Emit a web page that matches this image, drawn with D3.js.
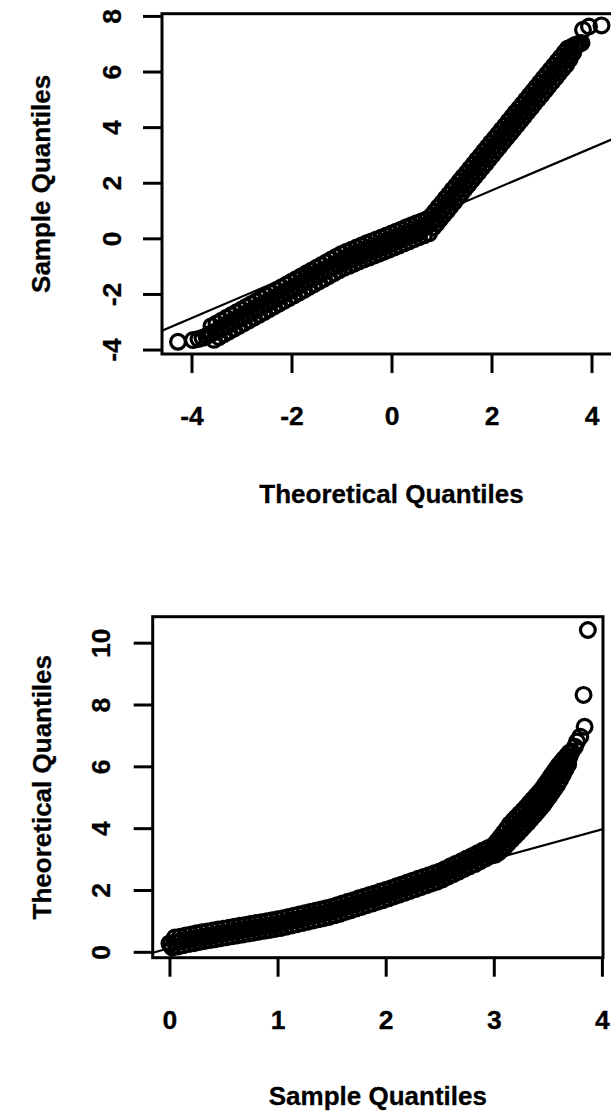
<!DOCTYPE html>
<html>
<head>
<meta charset="utf-8">
<script src="https://cdn.jsdelivr.net/npm/d3@7"></script>
<style>
  html, body { margin: 0; padding: 0; background: #fff; }
  svg { display: block; }
</style>
</head>
<body>
<svg id="chart" width="611" height="1115"></svg>
<script>
// ---------------- data ----------------
// Normal Q-Q plot: [theoretical quantile, sample quantile]
const topPoints = [
  // lower tail
  [-4.27,-3.72],[-3.97,-3.66],[-3.86,-3.62],[-3.78,-3.58],[-3.70,-3.52],[-3.65,-3.45],
  // body, upper side
  [-3.6,-3.16],[-3.5,-3.06],[-3.4,-2.96],[-3.3,-2.86],[-3.2,-2.76],[-3.1,-2.66],[-3.0,-2.56],
  [-2.9,-2.46],[-2.8,-2.36],[-2.7,-2.26],[-2.6,-2.16],[-2.5,-2.06],[-2.4,-1.96],[-2.3,-1.86],
  [-2.2,-1.76],[-2.1,-1.66],[-2.0,-1.56],[-1.9,-1.46],[-1.8,-1.36],[-1.7,-1.26],[-1.6,-1.16],
  [-1.5,-1.06],[-1.4,-0.96],[-1.3,-0.86],[-1.2,-0.76],[-1.1,-0.66],[-1.0,-0.56],[-0.9,-0.48],
  [-0.8,-0.41],[-0.7,-0.33],[-0.6,-0.26],[-0.5,-0.18],[-0.4,-0.11],[-0.3,-0.04],[-0.2,0.03],
  [-0.1,0.10],[0.0,0.17],[0.1,0.25],[0.2,0.32],[0.3,0.40],[0.4,0.47],[0.5,0.54],[0.6,0.61],
  [0.7,0.68],
  // body, middle
  [-3.6,-3.43],[-3.5,-3.33],[-3.4,-3.23],[-3.3,-3.13],[-3.2,-3.03],[-3.1,-2.93],[-3.0,-2.83],
  [-2.9,-2.73],[-2.8,-2.63],[-2.7,-2.53],[-2.6,-2.43],[-2.5,-2.33],[-2.4,-2.23],[-2.3,-2.13],
  [-2.2,-2.03],[-2.1,-1.93],[-2.0,-1.83],[-1.9,-1.73],[-1.8,-1.63],[-1.7,-1.53],[-1.6,-1.43],
  [-1.5,-1.33],[-1.4,-1.23],[-1.3,-1.13],[-1.2,-1.03],[-1.1,-0.93],[-1.0,-0.83],[-0.9,-0.75],
  [-0.8,-0.68],[-0.7,-0.60],[-0.6,-0.53],[-0.5,-0.45],[-0.4,-0.38],[-0.3,-0.31],[-0.2,-0.24],
  [-0.1,-0.17],[0.0,-0.10],[0.1,-0.03],[0.2,0.05],[0.3,0.13],[0.4,0.20],[0.5,0.27],[0.6,0.34],
  [0.7,0.41],
  // body, lower side
  [-3.55,-3.65],[-3.45,-3.55],[-3.35,-3.45],[-3.25,-3.35],[-3.15,-3.25],[-3.05,-3.15],
  [-2.95,-3.05],[-2.85,-2.95],[-2.75,-2.85],[-2.65,-2.75],[-2.55,-2.65],[-2.45,-2.55],
  [-2.35,-2.45],[-2.25,-2.35],[-2.15,-2.25],[-2.05,-2.15],[-1.95,-2.05],[-1.85,-1.95],
  [-1.75,-1.85],[-1.65,-1.75],[-1.55,-1.65],[-1.45,-1.55],[-1.35,-1.45],[-1.25,-1.35],
  [-1.15,-1.25],[-1.05,-1.15],[-0.95,-1.06],[-0.85,-0.99],[-0.75,-0.91],[-0.65,-0.83],
  [-0.55,-0.76],[-0.45,-0.69],[-0.35,-0.62],[-0.25,-0.55],[-0.15,-0.48],[-0.05,-0.41],
  [0.05,-0.33],[0.15,-0.26],[0.25,-0.18],[0.35,-0.11],[0.45,-0.03],[0.55,0.04],[0.65,0.11],
  [0.75,0.18],
  // right-hand rise, upper side
  [0.80,0.81],[0.87,0.96],[0.94,1.12],[1.01,1.27],[1.08,1.43],[1.15,1.58],[1.22,1.74],
  [1.29,1.89],[1.36,2.05],[1.43,2.20],[1.50,2.35],[1.57,2.51],[1.64,2.66],[1.71,2.82],
  [1.78,2.97],[1.85,3.13],[1.92,3.28],[1.99,3.44],[2.06,3.59],[2.13,3.74],[2.20,3.90],
  [2.27,4.05],[2.34,4.21],[2.41,4.36],[2.48,4.52],[2.55,4.67],[2.62,4.82],[2.69,4.98],
  [2.76,5.13],[2.83,5.29],[2.90,5.44],[2.97,5.60],[3.04,5.75],[3.11,5.91],[3.18,6.06],
  [3.25,6.21],[3.32,6.37],[3.39,6.52],[3.46,6.68],[3.53,6.83],[3.60,6.88],[3.67,6.95],
  // right-hand rise, middle
  [0.80,0.56],[0.87,0.71],[0.94,0.87],[1.01,1.02],[1.08,1.18],[1.15,1.33],[1.22,1.49],
  [1.29,1.64],[1.36,1.80],[1.43,1.95],[1.50,2.10],[1.57,2.26],[1.64,2.41],[1.71,2.57],
  [1.78,2.72],[1.85,2.88],[1.92,3.03],[1.99,3.19],[2.06,3.34],[2.13,3.49],[2.20,3.65],
  [2.27,3.80],[2.34,3.96],[2.41,4.11],[2.48,4.27],[2.55,4.42],[2.62,4.57],[2.69,4.73],
  [2.76,4.88],[2.83,5.04],[2.90,5.19],[2.97,5.35],[3.04,5.50],[3.11,5.66],[3.18,5.81],
  [3.25,5.96],[3.32,6.12],[3.39,6.27],[3.46,6.43],[3.53,6.58],[3.60,6.74],[3.67,6.87],
  // right-hand rise, lower side
  [0.835,0.39],[0.905,0.54],[0.975,0.70],[1.045,0.85],[1.115,1.00],[1.185,1.16],[1.255,1.31],
  [1.325,1.47],[1.395,1.62],[1.465,1.78],[1.535,1.93],[1.605,2.09],[1.675,2.24],[1.745,2.39],
  [1.815,2.55],[1.885,2.70],[1.955,2.86],[2.025,3.01],[2.095,3.17],[2.165,3.32],[2.235,3.48],
  [2.305,3.63],[2.375,3.78],[2.445,3.94],[2.515,4.09],[2.585,4.25],[2.655,4.40],[2.725,4.56],
  [2.795,4.71],[2.865,4.87],[2.935,5.02],[3.005,5.17],[3.075,5.33],[3.145,5.48],[3.215,5.64],
  [3.285,5.79],[3.355,5.95],[3.425,6.10],[3.495,6.25],[3.565,6.45],[3.635,6.68],
  // upper tail
  [3.72,6.97],[3.76,7.01],[3.80,7.03],[3.83,7.50],[3.95,7.62],[4.20,7.66]
];
// qqline end points (theoretical, sample)
const topLine = [[-4.59,-3.32],[4.59,3.70]];
const topXTicks = [-4,-2,0,2,4];
const topYTicks = [-4,-2,0,2,4,6,8];
const topXTitle = "Theoretical Quantiles";
const topYTitle = "Sample Quantiles";

// Q-Q plot with axes swapped: [sample quantile, theoretical quantile]
const bottomPoints = [
  // lower tail
  [0.00,0.27],[0.01,0.24],
  // upper side
  [0.05,0.46],[0.10,0.49],[0.15,0.53],[0.20,0.56],[0.25,0.60],[0.30,0.63],[0.35,0.66],
  [0.40,0.69],[0.45,0.72],[0.50,0.75],[0.55,0.78],[0.60,0.81],[0.65,0.84],[0.70,0.87],
  [0.75,0.90],[0.80,0.93],[0.85,0.96],[0.90,0.99],[0.95,1.02],[1.00,1.05],[1.05,1.09],
  [1.10,1.13],[1.15,1.17],[1.20,1.21],[1.25,1.25],[1.30,1.29],[1.35,1.33],[1.40,1.37],
  [1.45,1.41],[1.50,1.45],[1.55,1.51],[1.60,1.56],[1.65,1.62],[1.70,1.67],[1.75,1.73],
  [1.80,1.78],[1.85,1.84],[1.90,1.89],[1.95,1.95],[2.00,2.00],[2.05,2.06],[2.10,2.12],
  [2.15,2.18],[2.20,2.24],[2.25,2.30],[2.30,2.36],[2.35,2.42],[2.40,2.48],[2.45,2.54],
  [2.50,2.60],[2.55,2.68],[2.60,2.77],[2.65,2.85],[2.70,2.93],[2.75,3.02],[2.80,3.10],
  [2.85,3.19],[2.90,3.28],[2.95,3.36],
  // middle
  [0.05,0.31],[0.10,0.34],[0.15,0.38],[0.20,0.41],[0.25,0.45],[0.30,0.48],[0.35,0.51],
  [0.40,0.54],[0.45,0.57],[0.50,0.60],[0.55,0.63],[0.60,0.66],[0.65,0.69],[0.70,0.72],
  [0.75,0.75],[0.80,0.78],[0.85,0.81],[0.90,0.84],[0.95,0.87],[1.00,0.90],[1.05,0.94],
  [1.10,0.98],[1.15,1.02],[1.20,1.06],[1.25,1.10],[1.30,1.14],[1.35,1.18],[1.40,1.22],
  [1.45,1.26],[1.50,1.30],[1.55,1.36],[1.60,1.41],[1.65,1.47],[1.70,1.52],[1.75,1.58],
  [1.80,1.63],[1.85,1.69],[1.90,1.74],[1.95,1.80],[2.00,1.85],[2.05,1.91],[2.10,1.97],
  [2.15,2.03],[2.20,2.09],[2.25,2.15],[2.30,2.21],[2.35,2.27],[2.40,2.33],[2.45,2.39],
  [2.50,2.45],[2.55,2.53],[2.60,2.62],[2.65,2.70],[2.70,2.78],[2.75,2.87],[2.80,2.95],
  [2.85,3.04],[2.90,3.13],[2.95,3.21],
  // lower side
  [0.025,0.14],[0.075,0.17],[0.125,0.21],[0.175,0.25],[0.225,0.28],[0.275,0.32],[0.325,0.35],
  [0.375,0.38],[0.425,0.41],[0.475,0.44],[0.525,0.47],[0.575,0.50],[0.625,0.53],[0.675,0.56],
  [0.725,0.59],[0.775,0.62],[0.825,0.65],[0.875,0.68],[0.925,0.71],[0.975,0.74],[1.025,0.77],
  [1.075,0.81],[1.125,0.85],[1.175,0.89],[1.225,0.93],[1.275,0.97],[1.325,1.01],[1.375,1.05],
  [1.425,1.09],[1.475,1.13],[1.525,1.18],[1.575,1.23],[1.625,1.29],[1.675,1.34],[1.725,1.40],
  [1.775,1.45],[1.825,1.51],[1.875,1.56],[1.925,1.62],[1.975,1.67],[2.025,1.73],[2.075,1.79],
  [2.125,1.85],[2.175,1.91],[2.225,1.97],[2.275,2.03],[2.325,2.09],[2.375,2.15],[2.425,2.21],
  [2.475,2.27],[2.525,2.34],[2.575,2.43],[2.625,2.51],[2.675,2.59],[2.725,2.68],[2.775,2.76],
  [2.825,2.84],[2.875,2.93],[2.925,3.02],[2.975,3.11],
  // steep part, upper side
  [3.00,3.45],[3.03,3.57],[3.06,3.70],[3.09,3.84],[3.12,3.98],[3.15,4.13],[3.18,4.24],
  [3.21,4.35],[3.24,4.46],[3.27,4.57],[3.30,4.68],[3.33,4.80],[3.36,4.92],[3.39,5.04],
  [3.42,5.16],[3.45,5.28],[3.475,5.41],[3.50,5.53],[3.525,5.66],[3.55,5.78],[3.575,5.91],
  [3.60,6.03],[3.625,6.14],[3.65,6.24],[3.675,6.34],[3.70,6.44],
  // steep part, middle
  [3.00,3.30],[3.03,3.41],[3.06,3.52],[3.09,3.63],[3.12,3.74],[3.15,3.85],[3.18,3.96],
  [3.21,4.07],[3.24,4.18],[3.27,4.29],[3.30,4.40],[3.33,4.52],[3.36,4.64],[3.39,4.76],
  [3.42,4.88],[3.45,5.00],[3.475,5.13],[3.50,5.25],[3.525,5.38],[3.55,5.50],[3.575,5.63],
  [3.60,5.75],[3.625,5.89],[3.65,6.03],[3.675,6.16],[3.70,6.30],
  // steep part, lower side
  [3.015,3.14],[3.045,3.22],[3.075,3.31],[3.105,3.41],[3.135,3.52],[3.165,3.63],[3.195,3.74],
  [3.225,3.85],[3.255,3.96],[3.285,4.07],[3.315,4.18],[3.345,4.30],[3.375,4.42],[3.405,4.54],
  [3.435,4.66],[3.4625,4.78],[3.4875,4.91],[3.5125,5.03],[3.5375,5.16],[3.5625,5.28],
  [3.5875,5.41],[3.6125,5.56],[3.6375,5.72],[3.6625,5.90],[3.6875,6.06],
  // upper tail
  [3.72,6.48],[3.75,6.63],[3.77,6.80],[3.80,6.96],[3.84,7.28],[3.83,8.31],[3.87,10.41]
];
const bottomLine = [[-0.155,-0.03],[4.01,3.97]];
const bottomXTicks = [0,1,2,3,4];
const bottomYTicks = [0,2,4,6,8,10];
const bottomXTitle = "Sample Quantiles";
const bottomYTitle = "Theoretical Quantiles";

// ---------------- drawing ----------------
const FONT = '"Liberation Sans", Arial, Helvetica, sans-serif';
const svg = d3.select("#chart");
svg.append("rect").attr("width", 611).attr("height", 1115).attr("fill", "#fff");

function styleText(sel, size) {
  sel.attr("font-family", FONT)
     .attr("font-size", size)
     .attr("font-weight", "bold")
     .attr("fill", "#000")
     .attr("stroke", "#000")
     .attr("stroke-width", 0.3);
}

function drawPanel(p) {
  const x = d3.scaleLinear().domain(p.xDomain).range([p.left, p.right]);
  const y = d3.scaleLinear().domain(p.yDomain).range([p.bottom, p.top]);
  const g = svg.append("g");

  const clipId = p.id + "-clip";
  svg.append("clipPath").attr("id", clipId)
    .append("rect")
    .attr("x", p.left).attr("y", p.top)
    .attr("width", p.right - p.left).attr("height", p.bottom - p.top);

  // points
  g.append("g")
    .attr("clip-path", `url(#${clipId})`)
    .selectAll("circle")
    .data(p.points)
    .join("circle")
    .attr("cx", d => x(d[0]))
    .attr("cy", d => y(d[1]))
    .attr("r", 7.4)
    .attr("fill", "none")
    .attr("stroke", "#000")
    .attr("stroke-width", 3.2);

  // reference line
  g.append("line")
    .attr("clip-path", `url(#${clipId})`)
    .attr("x1", x(p.line[0][0])).attr("y1", y(p.line[0][1]))
    .attr("x2", x(p.line[1][0])).attr("y2", y(p.line[1][1]))
    .attr("stroke", "#000")
    .attr("stroke-width", 2.2);

  // plot frame
  g.append("rect")
    .attr("x", p.left).attr("y", p.top)
    .attr("width", p.right - p.left).attr("height", p.bottom - p.top)
    .attr("fill", "none")
    .attr("stroke", "#000")
    .attr("stroke-width", 3);

  // x axis
  const xa = g.append("g")
    .attr("transform", `translate(0,${p.bottom})`)
    .call(d3.axisBottom(x).tickValues(p.xTicks).tickSize(19).tickSizeOuter(0)
      .tickFormat(d => String(d)));
  xa.select(".domain").remove();
  xa.selectAll(".tick line").attr("stroke", "#000").attr("stroke-width", 3);
  xa.selectAll(".tick text")
    .attr("y", 71).attr("dy", null)
    .attr("text-anchor", "middle")
    .call(styleText, 26.5);

  // y axis (labels parallel to the axis)
  const ya = g.append("g")
    .attr("transform", `translate(${p.left},0)`)
    .call(d3.axisLeft(y).tickValues(p.yTicks).tickSize(19).tickSizeOuter(0)
      .tickFormat(d => String(d)));
  ya.select(".domain").remove();
  ya.selectAll(".tick line").attr("stroke", "#000").attr("stroke-width", 3);
  ya.selectAll(".tick text")
    .attr("transform", "rotate(-90)")
    .attr("x", 0).attr("y", -p.yLabelOffset).attr("dy", null)
    .attr("text-anchor", "middle")
    .call(styleText, 26.5);

  // axis titles
  g.append("text")
    .attr("x", (p.left + p.right) / 2)
    .attr("y", p.bottom + p.xTitleOffset)
    .attr("text-anchor", "middle")
    .text(p.xTitle)
    .call(styleText, 26);

  g.append("text")
    .attr("transform", `translate(${p.left - p.yTitleOffset},${(p.top + p.bottom) / 2}) rotate(-90)`)
    .attr("text-anchor", "middle")
    .text(p.yTitle)
    .call(styleText, 26);
}

drawPanel({
  id: "top",
  left: 162, right: 621, top: 13.7, bottom: 354,
  xDomain: [-4.59, 4.59], yDomain: [-4.16, 8.08],
  points: topPoints, line: topLine,
  xTicks: topXTicks, yTicks: topYTicks,
  xTitle: topXTitle, yTitle: topYTitle,
  yLabelOffset: 41, xTitleOffset: 149, yTitleOffset: 112
});

drawPanel({
  id: "bottom",
  left: 152.7, right: 603, top: 616.7, bottom: 957.7,
  xDomain: [-0.155, 4.01], yDomain: [-0.19, 10.84],
  points: bottomPoints, line: bottomLine,
  xTicks: bottomXTicks, yTicks: bottomYTicks,
  xTitle: bottomXTitle, yTitle: bottomYTitle,
  yLabelOffset: 43, xTitleOffset: 147, yTitleOffset: 102
});
</script>
</body>
</html>
